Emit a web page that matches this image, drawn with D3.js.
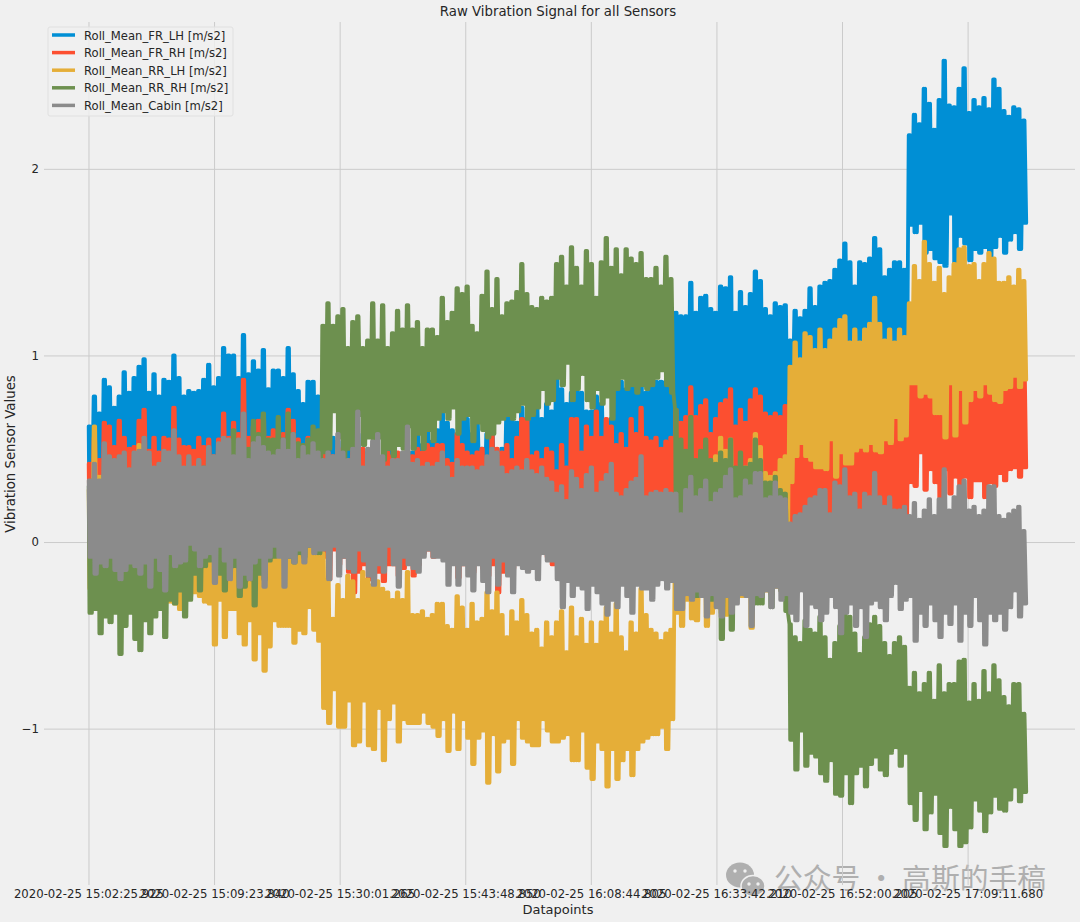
<!DOCTYPE html>
<html><head><meta charset="utf-8">
<style>html,body{margin:0;padding:0;background:#f0f0f0}svg{display:block}text{font-family:"DejaVu Sans",sans-serif;fill:#262626}</style>
<script src="https://cdn.jsdelivr.net/npm/d3@7/dist/d3.min.js"></script>
</head><body><svg id="c" width="1080" height="922"></svg>
<script>
const seriesNames=["Roll_Mean_FR_LH [m/s2]","Roll_Mean_FR_RH [m/s2]","Roll_Mean_RR_LH [m/s2]","Roll_Mean_RR_RH [m/s2]","Roll_Mean_Cabin [m/s2]"];
const seriesColors=["#008fd5","#fc4f30","#e5ae38","#6d904f","#8b8b8b"];
const tickLabels=["2020-02-25 15:02:25.925","2020-02-25 15:09:23.840","2020-02-25 15:30:01.265","2020-02-25 15:43:48.850","2020-02-25 16:08:44.805","2020-02-25 16:33:42.210","2020-02-25 16:52:00.205","2020-02-25 17:09:11.680"];
const tickSamples=[-.04,25.23,50.5,75.77,101.04,126.31,151.58,176.85];
const yTicks=[-1,0,1,2];

const lhTop=[.62,.78,.69,.87,.83,.72,.78,.91,.80,.88,.94,.98,.80,.90,.78,.87,.86,1.0,.88,.78,.81,.80,.81,.87,.95,.83,.88,1.04,1.0,1.0,.88,1.11,.90,.97,.92,1.03,.82,.92,.92,.88,1.04,.90,.81,.74,.86,.86,.78,
.56,.60,.56,.54,.48,.56,.48,.58,.48,.48,.44,.44,.44,.50,.50,.44,.44,.48,.48,.58,.52,.60,.54,.60,.70,.64,.60,.54,.66,.66,.58,.66,.50,.58,.60,.48,.50,.68,.68,.64,.72,.66,.68,.74,.66,.74,.70,.88,.82,.74,.80,.82,.80,.70,.70,.78,.74,.64,.66,.84,.86,.82,.84,.84,.84,.80,.84,.86,.86,.86,.86,
1.23,1.21,1.21,1.39,1.23,1.31,1.32,1.25,1.23,1.37,1.36,1.42,1.23,1.34,1.26,1.33,1.45,1.40,1.25,1.21,1.28,1.26,1.27,
1.08,1.24,1.20,1.24,1.36,1.26,1.37,1.39,1.40,1.46,1.51,1.60,1.50,1.37,1.50,1.49,1.52,1.63,1.57,1.42,1.46,1.50,1.50,1.46,
2.18,2.29,2.24,2.43,2.35,2.21,2.37,2.58,2.34,2.33,2.43,2.54,2.30,2.37,2.33,2.38,2.32,2.48,2.43,2.31,2.28,2.33,2.32,2.26];
const lhBot=[.14,.10,.13,.08,.12,.15,.09,.11,.14,.10,.12,.08,.13,.15,.10,.09,.12,.14,.11,.08,.13,.10,.15,.09,.12,.11,.14,.08,.10,.13,.12,.15,.09,.11,.14,.10,.08,.12,.13,.11,.09,.15,.10,.12,.14,.08,.11,
.18,.15,.20,.17,.22,.16,.19,.21,.15,.18,.20,.16,.22,.17,.19,.15,.21,.18,.16,.20,.17,.22,.15,.19,.18,.21,.16,.20,.17,.15,.22,.19,.18,.16,.21,.20,.17,.15,.19,.22,.18,.16,.20,.21,.17,.19,.15,.22,.18,.20,.16,.21,.17,.19,.15,.18,.22,.20,.16,.21,.19,.17,.15,.18,.20,.22,.16,.19,.21,.17,.18,
.40,.36,.42,.38,.35,.41,.37,.43,.39,.36,.40,.34,.42,.38,.41,.36,.39,.43,.37,.40,.35,.38,.41,
.72,.78,.70,.75,.80,.73,.77,.71,.76,.79,.72,.74,.78,.70,.75,.77,.73,.79,.71,.76,.74,.78,.72,.75,
1.70,1.66,1.71,1.55,1.57,1.52,1.50,1.48,1.76,1.49,1.64,1.60,1.51,1.57,1.55,1.58,1.49,1.58,1.64,1.55,1.62,1.66,1.57,1.71];

const rhTop=[.42,.56,.44,.64,.62,.51,.65,.56,.50,.51,.65,.71,.49,.56,.48,.56,.55,.72,.55,.51,.51,.49,.56,.51,.55,.46,.55,.69,.56,.64,.58,.87,.56,.62,.65,.67,.56,.60,.56,.58,.71,.65,.55,.51,.56,.55,.51,
.56,.48,.46,.44,.50,.44,.48,.42,.50,.44,.48,.44,.40,.48,.46,.48,.42,.52,.46,.50,.48,.52,.50,.52,.52,.44,.42,.58,.52,.48,.46,.48,.50,.44,.58,.50,.48,.52,.44,.56,.66,.66,.46,.48,.44,.50,.48,.38,.52,.40,.66,.66,.48,.62,.56,.70,.56,.66,.62,.52,.58,.50,.66,.58,.72,.56,.54,.56,.50,.54,.56,
.71,.64,.67,.83,.67,.73,.76,.58,.66,.74,.76,.82,.62,.71,.64,.76,.82,.78,.69,.67,.69,.67,.73,
.78,.82,.75,.80,.84,.78,.82,.76,.80,.85,.78,.82,.76,.80,.84,.78,.82,.76,.80,.84,.78,.82,.76,.80,
.98,1.02,1.0,.96,1.04,.99,1.03,.97,1.01,1.05,.98,1.02,.96,1.0,1.04,.97,1.01,.99,1.03,.98,1.0,1.02,.97,1.01];
const rhBot=[.02,.05,.01,.04,.03,.06,.02,.0,.04,.05,.01,.03,.06,.02,.04,.0,.05,.03,.01,.02,.06,.04,.03,.05,.01,.02,.04,.0,.06,.03,.02,.05,.01,.04,.03,.02,.06,.0,.04,.05,.01,.03,.02,.06,.04,.01,.03,
-.08,-.20,-.04,-.12,-.08,-.16,-.27,-.16,-.12,-.20,-.21,-.16,-.21,-.12,-.12,-.18,-.14,-.08,-.18,-.12,-.06,-.04,-.08,-.06,-.08,-.10,-.10,-.19,-.12,-.12,-.16,-.10,-.14,-.18,-.12,-.27,-.16,-.12,-.14,-.10,-.12,-.15,-.12,-.08,-.04,-.08,-.12,
-.12,-.10,-.14,-.12,-.10,-.13,-.12,-.14,-.10,-.12,-.13,-.11,-.12,-.10,-.14,-.12,-.13,-.10,-.12,-.11,-.14,-.12,-.10,-.12,
-.05,-.08,-.03,-.06,-.09,-.04,-.07,-.02,-.06,-.08,-.04,-.03,-.07,-.05,-.09,-.02,-.06,-.04,-.08,-.03,-.07,-.05,-.06,
.04,.06,.02,.05,.03,.07,.04,.01,.06,.03,.05,.02,.07,.04,.06,.03,.01,.05,.04,.06,.02,.03,.05,.04,
.32,.30,.48,.28,.39,.32,.24,.39,.26,.35,.28,.35,.24,.33,.33,.24,.32,.30,.37,.33,.39,.40,.35,.40];

const rlTop=[.28,.62,.35,.30,.45,.33,.30,.28,.38,.30,.52,.35,.42,.30,.28,.30,.26,.30,.28,.25,.30,.27,.28,.26,.30,.25,.28,.27,.25,.30,.26,.28,.25,.27,.30,.26,.28,.25,.30,.27,.26,.28,.25,.27,.30,.28,.26,
-.06,-.20,-.41,-.23,-.31,-.18,-.21,-.31,-.16,-.20,-.23,-.21,-.25,-.27,-.31,-.27,-.31,-.16,-.39,-.39,-.37,-.41,-.39,-.33,-.33,-.45,-.47,-.29,-.35,-.47,-.33,-.43,-.41,-.27,-.37,-.27,-.39,-.51,-.37,-.43,-.31,-.39,-.49,-.47,-.57,-.43,-.51,-.43,-.37,-.59,-.35,-.51,-.41,-.55,-.43,-.55,-.43,-.35,-.49,-.33,-.51,-.59,-.43,-.49,-.25,-.39,-.47,-.49,-.53,-.49,-.47,
.24,.23,.24,.24,.32,.23,.21,.23,.46,.56,.49,.55,.39,.40,.40,.44,.58,.51,.37,.35,.37,.44,.46,
.94,1.07,.98,1.12,1.10,1.03,1.14,1.03,1.08,1.14,1.19,1.21,1.07,1.14,1.07,1.14,1.17,1.31,1.17,1.08,1.14,1.07,1.14,1.10,
1.28,1.48,1.40,1.61,1.49,1.39,1.47,1.33,1.42,1.49,1.57,1.58,1.48,1.49,1.40,1.49,1.55,1.52,1.39,1.39,1.42,1.37,1.46,1.40];
const rlBot=[-.25,-.22,-.20,-.24,-.21,-.26,-.23,-.20,-.22,-.25,-.20,-.23,-.21,-.24,-.22,-.20,-.32,-.33,-.36,-.31,-.29,-.27,-.29,-.32,-.33,-.55,-.31,-.51,-.36,-.36,-.49,-.55,-.42,-.63,-.49,-.69,-.56,-.42,-.45,-.45,-.45,-.54,-.47,-.49,-.35,-.47,-.53,
-.89,-.97,-.79,-.99,-.99,-.85,-1.09,-1.07,-.85,-1.09,-1.11,-.89,-1.17,-.95,-.86,-1.07,-.95,-.97,-.97,-.97,-.91,-.97,-.99,-1.04,-.95,-1.12,-.91,-1.11,-.95,-1.05,-1.19,-1.05,-1.01,-1.29,-1.03,-1.23,-1.07,-1.05,-1.19,-.95,-1.05,-1.07,-1.09,-1.09,-.95,-1.01,-1.07,-1.07,-1.05,-1.03,-1.17,-1.17,-1.01,-1.21,-1.27,-1.07,-1.11,-1.31,-1.11,-1.27,-1.17,-1.11,-1.25,-1.11,-1.07,-1.05,-1.03,-1.03,-.99,-1.11,-.95,
-.38,-.45,-.31,-.41,-.42,-.29,-.45,-.38,-.35,-.38,-.39,-.35,-.29,-.29,-.29,-.46,-.28,-.29,-.26,-.28,-.24,-.26,-.28,
.32,.46,.53,.46,.44,.40,.40,.39,.55,.35,.48,.42,.42,.49,.51,.49,.53,.49,.48,.55,.53,.67,.55,.57,
.85,.85,.78,.80,.78,.69,.69,.56,.85,.57,.82,.64,.76,.82,.78,.85,.80,.76,.75,.82,.83,.89,.83,.87];

const rrTop=[.30,.34,.32,.36,.33,.35,.31,.37,.33,.30,.36,.34,.32,.35,.31,.34,.36,.33,.30,.35,.33,.36,.34,.40,.47,.42,.50,.52,.50,.60,.45,.55,.50,.65,.58,.69,.55,.55,.67,.55,.69,.58,.53,.52,.55,.62,.60,
1.16,1.28,1.16,1.21,1.25,1.04,1.18,1.21,1.04,1.08,1.28,1.08,1.27,1.04,1.12,1.24,1.14,1.27,1.14,1.18,1.04,1.14,1.14,1.10,1.31,1.18,1.23,1.36,1.33,1.37,1.16,1.12,1.32,1.45,1.25,1.41,1.21,1.28,1.29,1.34,1.49,1.33,1.26,1.25,1.31,1.29,1.31,1.49,1.53,1.37,1.58,1.47,1.37,1.56,1.49,1.31,1.50,1.63,1.47,1.57,1.43,1.57,1.52,1.49,1.55,1.41,1.41,1.47,1.37,1.53,1.41,
.71,.55,.49,.67,.44,.49,.55,.44,.42,.48,.44,.55,.40,.48,.40,.42,.55,.44,.32,.32,.35,.28,.26,
-.44,-.51,-.54,-.42,-.47,-.49,-.40,-.51,-.63,-.54,-.45,-.38,-.40,-.49,-.60,-.51,-.44,-.40,-.45,-.54,-.61,-.54,-.51,-.56,
-.78,-.70,-.81,-.76,-.70,-.85,-.66,-.81,-.76,-.76,-.64,-.63,-.86,-.76,-.85,-.69,-.81,-.66,-.74,-.83,-.88,-.76,-.76,-.92];
const rrBot=[-.38,-.36,-.49,-.40,-.43,-.38,-.60,-.45,-.38,-.52,-.58,-.42,-.49,-.40,-.36,-.51,-.31,-.33,-.26,-.40,-.31,-.17,-.26,-.13,-.10,-.06,-.17,-.26,-.17,-.13,-.29,-.24,-.20,-.34,-.17,-.20,-.10,-.08,-.06,-.08,-.08,-.11,-.06,-.08,-.02,-.02,-.06,
.48,.50,.70,.56,.44,.50,.46,.68,.52,.56,.54,.56,.44,.50,.46,.52,.50,.62,.50,.58,.50,.60,.54,.66,.70,.66,.72,.58,.66,.68,.54,.64,.60,.56,.58,.64,.66,.68,.66,.70,.74,.66,.68,.72,.82,.74,.76,.88,.84,.96,.76,.82,.90,.76,.72,.82,.74,.78,.66,.82,.88,.82,.84,.80,.84,.82,.84,.88,.92,.84,.80,
-.26,-.28,-.22,-.20,-.29,-.20,-.28,-.31,-.26,-.52,-.20,-.47,-.28,-.26,-.26,-.24,-.33,-.33,-.24,-.35,-.22,-.26,-.37,
-1.06,-1.22,-1.01,-1.20,-1.13,-1.15,-1.24,-1.28,-1.17,-1.35,-1.36,-1.24,-1.40,-1.24,-1.20,-1.31,-1.19,-1.15,-1.22,-1.25,-1.13,-1.10,-1.20,-1.13,
-1.40,-1.49,-1.33,-1.54,-1.45,-1.35,-1.56,-1.63,-1.42,-1.54,-1.63,-1.61,-1.53,-1.38,-1.44,-1.55,-1.45,-1.36,-1.43,-1.44,-1.38,-1.31,-1.39,-1.34];

const cabTop=[.33,.42,.33,.53,.46,.44,.46,.48,.39,.48,.49,.56,.48,.40,.42,.49,.48,.60,.46,.40,.46,.40,.44,.40,.51,.46,.53,.56,.55,.46,.55,.69,.44,.53,.56,.51,.48,.46,.49,.55,.49,.58,.44,.51,.46,.53,.48,
.44,.48,.46,.58,.48,.44,.50,.70,.40,.50,.54,.58,.46,.40,.44,.44,.48,.62,.42,.44,.40,.42,.40,.42,.48,.40,.34,.44,.40,.40,.40,.38,.40,.46,.50,.48,.40,.36,.38,.40,.38,.44,.38,.36,.40,.34,.32,.26,.30,.22,.38,.34,.28,.36,.40,.26,.32,.36,.42,.26,.24,.28,.32,.34,.46,.24,.26,.27,.26,.28,.26,
.26,.15,.28,.35,.24,.28,.33,.21,.26,.28,.35,.39,.23,.24,.33,.30,.37,.37,.23,.24,.32,.24,.23,
.10,.14,.15,.19,.23,.24,.28,.28,.15,.32,.30,.39,.24,.26,.17,.26,.24,.37,.24,.19,.24,.17,.17,.19,
.14,.21,.12,.17,.23,.14,.23,.39,.17,.24,.30,.33,.17,.19,.14,.17,.30,.30,.14,.12,.15,.17,.19,.06];
const cabBot=[-.08,-.17,-.11,-.13,-.08,-.15,-.20,-.15,-.11,-.13,-.17,-.11,-.24,-.08,-.15,-.26,-.06,-.13,-.11,-.10,-.01,-.04,-.13,-.08,-.06,-.22,-.02,-.10,-.20,-.08,-.24,-.17,-.20,-.11,-.08,-.24,-.08,-.02,-.08,-.24,-.08,-.11,-.04,-.11,-.02,-.06,-.04,
-.04,-.20,-.02,-.18,-.08,-.14,-.16,-.04,-.10,-.18,-.23,-.12,-.16,-.02,-.12,-.24,-.08,-.12,-.14,-.16,-.08,-.04,-.08,-.08,-.10,-.23,-.12,-.23,-.12,-.18,-.26,-.12,-.21,-.27,-.08,-.23,-.10,-.18,-.27,-.12,-.14,-.16,-.14,-.20,-.06,-.10,-.10,-.20,-.35,-.21,-.29,-.23,-.25,-.36,-.23,-.27,-.33,-.39,-.31,-.35,-.23,-.29,-.38,-.23,-.25,-.25,-.31,-.23,-.20,-.25,-.21,
-.36,-.36,-.28,-.31,-.26,-.29,-.40,-.28,-.35,-.40,-.29,-.38,-.33,-.28,-.29,-.45,-.28,-.29,-.26,-.35,-.24,-.31,-.28,
-.38,-.42,-.26,-.45,-.33,-.35,-.42,-.38,-.29,-.35,-.49,-.38,-.33,-.45,-.35,-.51,-.33,-.31,-.35,-.42,-.29,-.22,-.36,-.31,
-.29,-.53,-.38,-.45,-.33,-.42,-.51,-.38,-.44,-.33,-.53,-.38,-.45,-.29,-.42,-.55,-.38,-.42,-.38,-.47,-.35,-.26,-.40,-.33];

const seriesTop=[lhTop,rhTop,rlTop,rrTop,cabTop];
const seriesBot=[lhBot,rhBot,rlBot,rrBot,cabBot];

const L=44,R=1075,T=22,B=885;
const svg=d3.select("#c");
const x=d3.scaleLinear().domain([-8.99,198.46]).range([L,R]);
const y=d3.scaleLinear().domain([2.787,-1.838]).range([T,B]);

const wm=svg.append("g").attr("opacity",.9);
const wc="#a9a9a9";
wm.append("ellipse").attr("cx",740).attr("cy",875).attr("rx",14).attr("ry",12.5).attr("fill",wc);
wm.append("ellipse").attr("cx",753).attr("cy",886).attr("rx",12).attr("ry",10.5).attr("fill",wc).attr("stroke","#f0f0f0").attr("stroke-width",1.5);
[[735,871],[745,871],[749,884],[758,884]].forEach(p=>wm.append("circle").attr("cx",p[0]).attr("cy",p[1]).attr("r",1.7).attr("fill","#f0f0f0"));
wm.append("text").attr("x",774).attr("y",889).attr("font-size",28.8).style("font-family","'Noto Sans CJK SC'").style("fill",wc).text("公众号 · 高斯的手稿");

const gx=svg.append("g").attr("transform",`translate(0,${B})`).call(
  d3.axisBottom(x).tickValues(tickSamples).tickFormat((d,i)=>tickLabels[i]).tickSize(-(B-T)).tickPadding(5));
const gy=svg.append("g").attr("transform",`translate(${L},0)`).call(
  d3.axisLeft(y).tickValues(yTicks).tickFormat(d3.format("d")).tickSize(-(R-L)).tickPadding(5));
[gx,gy].forEach(g=>{g.select(".domain").remove();
  g.selectAll(".tick line").attr("stroke","#cbcbcb").attr("stroke-width",1);
  g.selectAll(".tick text").attr("font-size",11.7).attr("font-family","DejaVu Sans").attr("fill","#262626");});

const line=d3.line().x(d=>x(d.s)).y(d=>y(d.v));
seriesNames.forEach((n,k)=>{
  const pts=seriesTop[k].flatMap((t,i)=>{const b=seriesBot[k][i];
    return [{s:i,v:t},{s:i+.15,v:b},{s:i+.3,v:t},{s:i+.65,v:b}];});
  svg.append("path").attr("d",line(pts)).attr("fill","none").attr("stroke",seriesColors[k])
    .attr("stroke-width",3.8).attr("stroke-linejoin","round").attr("stroke-linecap","round");
});

svg.append("text").attr("x",558).attr("y",16).attr("text-anchor","middle").attr("font-size",13.3).text("Raw Vibration Signal for all Sensors");
svg.append("text").attr("x",558).attr("y",914).attr("text-anchor","middle").attr("font-size",13).text("Datapoints");
svg.append("text").attr("transform","translate(15,454) rotate(-90)").attr("text-anchor","middle").attr("font-size",13.3).text("Vibration Sensor Values");

const lg=svg.append("g");
lg.append("rect").attr("x",48).attr("y",27).attr("width",185).attr("height",89).attr("rx",2)
  .attr("fill","#f0f0f0").attr("fill-opacity",.8).attr("stroke","#e0e0e0");
seriesNames.forEach((n,k)=>{
  const yy=35+k*17.6;
  lg.append("line").attr("x1",52).attr("x2",75).attr("y1",yy).attr("y2",yy).attr("stroke",seriesColors[k]).attr("stroke-width",3.5);
  lg.append("text").attr("x",84).attr("y",yy+4.5).attr("font-size",11.6).text(n);
});
</script></body></html>
